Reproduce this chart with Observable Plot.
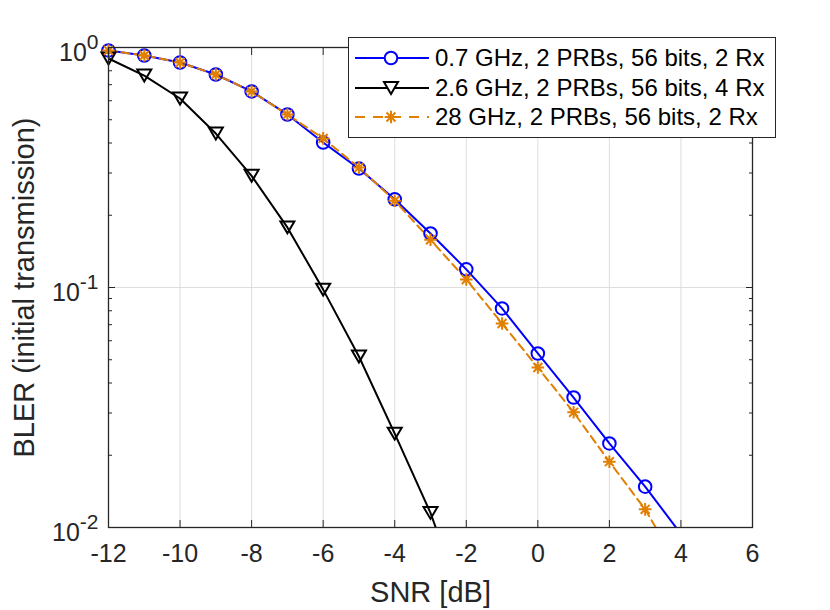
<!DOCTYPE html>
<html>
<head>
<meta charset="utf-8">
<script src="https://cdn.jsdelivr.net/npm/d3@7"></script>
<script src="https://cdn.jsdelivr.net/npm/@observablehq/plot@0.6"></script>
<style>
  body { margin: 0; background: white; font-family: "Liberation Sans", Arial, sans-serif; }
  #wrap { position: relative; width: 830px; height: 610px; }
  #legend { position: absolute; left: 348px; top: 37px; width: 428px; height: 101px;
            box-sizing: border-box; border: 1.3px solid #262626; background: white; }
</style>
</head>
<body>
<div id="wrap"><div id="chart"></div><div id="legend"></div></div>
<script>
// ---- data ----
const snr07 = [-12, -11, -10, -9, -8, -7, -6, -5, -4, -3, -2, -1, 0, 1, 2, 3, 4];
const bler07 = [0.972, 0.926, 0.866, 0.772, 0.656, 0.526, 0.402, 0.313, 0.233, 0.168, 0.119, 0.0818, 0.0531, 0.0348, 0.0224, 0.0148, 0.0094];
const snr26 = [-12, -11, -10, -9, -8, -7, -6, -5, -4, -3, -2];
const bler26 = [0.90, 0.764, 0.613, 0.438, 0.292, 0.178, 0.098, 0.0516, 0.0246, 0.0115, 0.0044];
const snr28 = [-12, -11, -10, -9, -8, -7, -6, -5, -4, -3, -2, -1, 0, 1, 2, 3, 4];
const bler28 = [0.972, 0.926, 0.866, 0.772, 0.656, 0.526, 0.418, 0.316, 0.230, 0.158, 0.108, 0.0708, 0.0464, 0.0302, 0.0188, 0.0119, 0.0066];
const seriesNames = ["0.7 GHz, 2 PRBs, 56 bits, 2 Rx", "2.6 GHz, 2 PRBs, 56 bits, 4 Rx", "28 GHz, 2 PRBs, 56 bits, 2 Rx"];
const seriesColors = ["#0000ff", "#000000", "#e07f00"];
const xTicks = [-12, -10, -8, -6, -4, -2, 0, 2, 4, 6];
const yTicks = [1, 0.1, 0.01];
const yMinor = [0.02, 0.03, 0.04, 0.05, 0.06, 0.07, 0.08, 0.09, 0.2, 0.3, 0.4, 0.5, 0.6, 0.7, 0.8, 0.9];
const xLabel = "SNR [dB]";
const yLabel = "BLER (initial transmission)";

const mk = (xs, ys) => xs.map((x, i) => ({x, y: ys[i]}));
const d07 = mk(snr07, bler07), d26 = mk(snr26, bler26), d28 = mk(snr28, bler28);
const vis = d => d.filter(p => p.y >= 0.01);

// ---- symbols ----
const rad = s => Math.sqrt(s / Math.PI);
const circleSym = {draw(c, s) { const r = rad(s); c.moveTo(r, 0); c.arc(0, 0, r, 0, 2 * Math.PI); }};
const triDown = {draw(c, s) { const r = rad(s); c.moveTo(-r, -0.85 * r); c.lineTo(r, -0.85 * r); c.lineTo(0, 0.85 * r); c.closePath(); }};
const aster = {draw(c, s) { const r = rad(s), d = r * 0.707;
  c.moveTo(-r, 0); c.lineTo(r, 0); c.moveTo(0, -r); c.lineTo(0, r);
  c.moveTo(-d, -d); c.lineTo(d, d); c.moveTo(-d, d); c.lineTo(d, -d); }};

const axisColor = "#262626";
const tickFont = 25;

const plot = Plot.plot({
  width: 830, height: 610,
  marginLeft: 108, marginRight: 78, marginTop: 47, marginBottom: 83,
  x: {domain: [-12, 6]},
  y: {type: "log", domain: [0.01, 1]},
  style: {fontFamily: "Liberation Sans, Arial, sans-serif", background: "white", color: axisColor},
  marks: [
    Plot.gridX(xTicks, {stroke: "#dedede", strokeOpacity: 1, strokeWidth: 1}),
    Plot.gridY(yTicks, {stroke: "#dedede", strokeOpacity: 1, strokeWidth: 1}),
    Plot.line(d07, {x: "x", y: "y", stroke: seriesColors[0], strokeWidth: 2, clip: true}),
    Plot.line(d26, {x: "x", y: "y", stroke: seriesColors[1], strokeWidth: 2, clip: true}),
    Plot.line(d28, {x: "x", y: "y", stroke: seriesColors[2], strokeWidth: 2, strokeDasharray: "8,5", clip: true}),
    Plot.dot(vis(d07), {x: "x", y: "y", r: 6.3, symbol: circleSym, stroke: seriesColors[0], strokeWidth: 2, fill: "none"}),
    Plot.dot(vis(d26), {x: "x", y: "y", r: 7, symbol: triDown, stroke: seriesColors[1], strokeWidth: 2, fill: "none"}),
    Plot.dot(vis(d28), {x: "x", y: "y", r: 6.3, symbol: aster, stroke: seriesColors[2], strokeWidth: 2, fill: "none"}),
    Plot.frame({stroke: axisColor, strokeWidth: 1.3}),
    // inward ticks
    Plot.axisX({anchor: "bottom", ticks: xTicks, tickSize: -7, tickFormat: () => "", label: null, stroke: axisColor}),
    Plot.axisX({anchor: "top", ticks: xTicks, tickSize: -7, tickFormat: () => "", label: null, stroke: axisColor}),
    Plot.axisY({anchor: "left", ticks: yTicks, tickSize: -7, tickFormat: () => "", label: null, stroke: axisColor}),
    Plot.axisY({anchor: "right", ticks: yTicks, tickSize: -7, tickFormat: () => "", label: null, stroke: axisColor}),
    Plot.axisY({anchor: "left", ticks: yMinor, tickSize: -4, tickFormat: () => "", label: null, stroke: axisColor}),
    Plot.axisY({anchor: "right", ticks: yMinor, tickSize: -4, tickFormat: () => "", label: null, stroke: axisColor}),
    // tick labels
    Plot.axisX({anchor: "bottom", ticks: xTicks, tickSize: 0, tickPadding: 17, tickFormat: d => String(d), label: null, fontSize: tickFont, fill: axisColor}),
    Plot.axisY({anchor: "left", ticks: yTicks, tickSize: 0, tickPadding: 10, tickFormat: d => "10|" + Math.round(Math.log10(d)), label: null, fontSize: tickFont, fill: axisColor, dy: 5}),
    // axis titles
    Plot.text([xLabel], {frameAnchor: "bottom", textAnchor: "middle", lineAnchor: "bottom", dy: 74, fontSize: 29, fill: axisColor}),
    Plot.text([yLabel], {frameAnchor: "left", textAnchor: "middle", lineAnchor: "bottom", rotate: -90, dx: -75, fontSize: 29, fill: axisColor})
  ]
});
document.getElementById("chart").appendChild(plot);

// superscript exponents for log tick labels
d3.select(plot).selectAll("text").each(function() {
  const t = d3.select(this);
  const s = this.textContent;
  if (/^10\|/.test(s) && this.children.length === 0) {
    const exp = s.split("|")[1];
    t.text(null);
    t.append("tspan").text("10");
    t.append("tspan").attr("dy", "-12").attr("font-size", "21").text(exp);
  } else {
    t.selectAll("tspan").each(function() {
      const ts = this.textContent;
      if (/^10\|/.test(ts)) {
        const exp = ts.split("|")[1];
        d3.select(this).text("10");
        d3.select(this.parentNode).append("tspan").attr("dy", "-12").attr("font-size", "21").text(exp);
      }
    });
  }
});

// legend
const lg = d3.select("#legend").append("svg").attr("width", 426).attr("height", 99)
  .style("display", "block").style("font-family", "Liberation Sans, Arial, sans-serif");
const rows = [20, 50, 79];
const syms = [circleSym, triDown, aster];
const rs = [6.3, 7, 6.3];
seriesNames.forEach((name, i) => {
  const g = lg.append("g");
  g.append("line").attr("x1", 6).attr("x2", 80).attr("y1", rows[i]).attr("y2", rows[i])
    .attr("stroke", seriesColors[i]).attr("stroke-width", 2)
    .attr("stroke-dasharray", i === 2 ? "10,8" : null);
  g.append("path").attr("transform", `translate(42,${rows[i]})`)
    .attr("d", d3.symbol(syms[i], Math.PI * rs[i] * rs[i])())
    .attr("fill", i === 2 ? "none" : "white").attr("stroke", seriesColors[i]).attr("stroke-width", 2);
  g.append("text").attr("x", 86).attr("y", rows[i]).attr("dy", "0.35em")
    .attr("font-size", 24).attr("fill", "#000").text(name);
});
</script>
</body>
</html>
